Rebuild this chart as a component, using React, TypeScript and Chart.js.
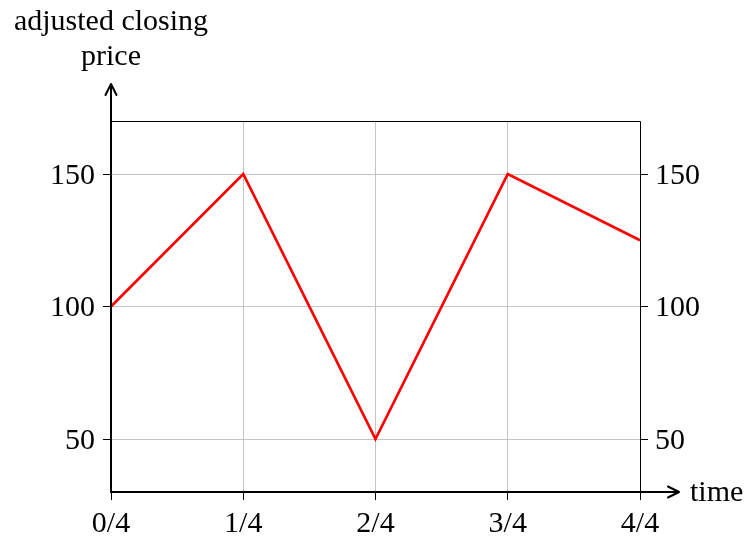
import React, { useEffect, useRef } from "react";
import { Chart, registerables } from "chart.js";

Chart.register(...registerables);

// ---- data ----
const timeLabels = ["0/4", "1/4", "2/4", "3/4", "4/4"];
const prices = [100, 150, 50, 150, 125];
const yTickValues = [50, 100, 150];
const yMin = 30;
const yMax = 170;
const xAxisTitle = "time";
const yAxisTitleLines = ["adjusted closing", "price"];

const FONT_FAMILY = "'Liberation Serif', 'Times New Roman', serif";
const FONT_SIZE = 30;
const GRID = "#c4c4c4";

const axesPlugin = {
  id: "pgfAxes",
  afterDatasetsDraw(chart: any) {
    const { ctx, chartArea } = chart;
    const { left, right, top, bottom } = chartArea;
    ctx.save();
    ctx.strokeStyle = "#000";
    // thin frame top + right
    ctx.lineWidth = 1;
    ctx.beginPath();
    ctx.moveTo(left, top + 0.5);
    ctx.lineTo(right + 0.5, top + 0.5);
    ctx.lineTo(right + 0.5, bottom);
    ctx.stroke();
    // thick axes
    ctx.lineWidth = 2;
    ctx.lineCap = "butt";
    ctx.beginPath();
    ctx.moveTo(left, bottom + 1);
    ctx.lineTo(left, top - 36);
    ctx.stroke();
    ctx.beginPath();
    ctx.moveTo(left - 1, bottom);
    ctx.lineTo(right + 39, bottom);
    ctx.stroke();
    // arrow heads
    ctx.lineJoin = "round";
    ctx.lineCap = "round";
    ctx.beginPath();
    ctx.moveTo(left - 5.5, top - 26);
    ctx.lineTo(left, top - 37);
    ctx.lineTo(left + 5.5, top - 26);
    ctx.stroke();
    ctx.beginPath();
    ctx.moveTo(right + 28, bottom - 5.5);
    ctx.lineTo(right + 39, bottom);
    ctx.lineTo(right + 28, bottom + 5.5);
    ctx.stroke();
    // titles
    ctx.fillStyle = "#000";
    ctx.font = `${FONT_SIZE}px ${FONT_FAMILY}`;
    ctx.textBaseline = "alphabetic";
    ctx.textAlign = "left";
    ctx.fillText(xAxisTitle, right + 50, bottom + 9);
    ctx.textAlign = "center";
    ctx.fillText(yAxisTitleLines[0], left, 30);
    ctx.fillText(yAxisTitleLines[1], left, 65);
    ctx.restore();
  },
};

export default function App() {
  const canvasRef = useRef<HTMLCanvasElement | null>(null);

  useEffect(() => {
    if (!canvasRef.current) return;
    const tickFont = { family: FONT_FAMILY, size: FONT_SIZE };
    const chart = new Chart(canvasRef.current, {
      type: "line",
      data: {
        labels: timeLabels,
        datasets: [
          {
            data: prices,
            borderColor: "#ff0000",
            borderWidth: 2.7,
            borderJoinStyle: "miter",
            pointRadius: 0,
            tension: 0,
            fill: false,
          },
        ],
      },
      plugins: [axesPlugin],
      options: {
        responsive: false,
        animation: false,
        layout: { padding: { top: 121, left: 0, right: 0, bottom: 0 } },
        plugins: { legend: { display: false }, tooltip: { enabled: false } },
        scales: {
          x: {
            type: "category",
            offset: false,
            grid: {
              color: GRID,
              lineWidth: 1,
              tickLength: 8,
              tickColor: "#000",
              offset: false,
            },
            border: { display: false },
            ticks: { color: "#000", font: tickFont, padding: 6, maxRotation: 0 },
            afterFit: (s: any) => {
              s.height = 47;
            },
          },
          y: {
            type: "linear",
            position: "left",
            min: yMin,
            max: yMax,
            grid: { color: GRID, lineWidth: 1, tickLength: 8, tickColor: "#000" },
            border: { display: false },
            ticks: { color: "#000", font: tickFont, padding: 8, labelOffset: 2 },
            afterBuildTicks: (s: any) => {
              s.ticks = yTickValues.map((v) => ({ value: v }));
            },
            afterFit: (s: any) => {
              s.width = 111;
            },
          },
          y2: {
            type: "linear",
            position: "right",
            min: yMin,
            max: yMax,
            grid: { drawOnChartArea: false, tickLength: 8, tickColor: "#000" },
            border: { display: false },
            ticks: { color: "#000", font: tickFont, padding: 7, labelOffset: 2 },
            afterBuildTicks: (s: any) => {
              s.ticks = yTickValues.map((v) => ({ value: v }));
            },
            afterFit: (s: any) => {
              s.width = 110;
            },
          },
        },
      },
    });
    return () => chart.destroy();
  }, []);

  return (
    <div style={{ position: "absolute", left: 0, top: 0, width: 750, height: 539, background: "#fff" }}>
      <canvas ref={canvasRef} width={750} height={539} style={{ width: 750, height: 539 }} />
    </div>
  );
}
